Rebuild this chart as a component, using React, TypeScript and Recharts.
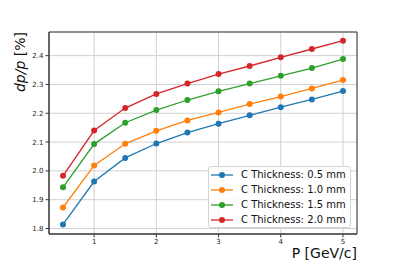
import React from "react";
import {
  LineChart, Line, XAxis, YAxis, CartesianGrid, Legend, Label, ReferenceArea,
} from "recharts";

const momentum = [0.5, 1.0, 1.5, 2.0, 2.5, 3.0, 3.5, 4.0, 4.5, 5.0];

const thick05 = [1.814, 1.963, 2.045, 2.095, 2.133, 2.164, 2.193, 2.221, 2.248, 2.277];
const thick10 = [1.873, 2.019, 2.094, 2.139, 2.175, 2.203, 2.232, 2.258, 2.286, 2.315];
const thick15 = [1.943, 2.093, 2.167, 2.211, 2.246, 2.276, 2.303, 2.330, 2.357, 2.388];
const thick20 = [1.983, 2.140, 2.218, 2.267, 2.303, 2.336, 2.364, 2.394, 2.423, 2.452];

const xTicks = [1, 2, 3, 4, 5];
const yTicks = [1.8, 1.9, 2.0, 2.1, 2.2, 2.3, 2.4];
const xDomain: [number, number] = [0.275, 5.225];
const yDomain: [number, number] = [1.781, 2.482];

const series = [
  { key: "t05", label: "C Thickness: 0.5 mm", color: "#1f77b4", values: thick05 },
  { key: "t10", label: "C Thickness: 1.0 mm", color: "#ff7f0e", values: thick10 },
  { key: "t15", label: "C Thickness: 1.5 mm", color: "#2ca02c", values: thick15 },
  { key: "t20", label: "C Thickness: 2.0 mm", color: "#d62728", values: thick20 },
];

const data = momentum.map((p, i) => {
  const row: Record<string, number> = { p };
  series.forEach((s) => { row[s.key] = s.values[i]; });
  return row;
});

const FONT = "DejaVu Sans, Verdana, sans-serif";
const AXIS = "#3a3a3a";
const tickStyle = { fontSize: 7, fill: "#222", fontFamily: FONT };

const YLabel = ({ viewBox }: { viewBox?: { x: number; y: number } }) => {
  if (!viewBox) return null;
  const x = viewBox.x + 25;
  const y = viewBox.y;
  return (
    <text
      x={x}
      y={y}
      transform={`rotate(-90, ${x}, ${y})`}
      textAnchor="end"
      fontSize={14}
      fontFamily={FONT}
      fill="#111"
    >
      <tspan fontStyle="italic">dp/p</tspan>
      <tspan> [%]</tspan>
    </text>
  );
};

const XLabel = ({ viewBox }: { viewBox?: { x: number; y: number; width: number } }) => {
  if (!viewBox) return null;
  return (
    <text
      x={viewBox.x + viewBox.width}
      y={viewBox.y + 24}
      textAnchor="end"
      fontSize={14}
      fontFamily={FONT}
      fill="#111"
    >
      P [GeV/c]
    </text>
  );
};

const LegendBox = () => (
  <div
    style={{
      border: "1px solid #d4d4d4",
      borderRadius: 3,
      background: "rgba(255,255,255,0.85)",
      width: 143,
      height: 62,
      boxSizing: "border-box",
      fontFamily: FONT,
      fontSize: 10,
      color: "#111",
    }}
  >
    {series.map((s) => (
      <div key={s.key} style={{ display: "flex", alignItems: "center", height: 15 }}>
        <svg width={22} height={8} style={{ marginLeft: 2, marginRight: 8 }}>
          <line x1={0} y1={4} x2={22} y2={4} stroke={s.color} strokeWidth={1.3} />
          <circle cx={11} cy={4} r={3} fill={s.color} />
        </svg>
        <span style={{ whiteSpace: "nowrap", lineHeight: "15px" }}>{s.label}</span>
      </div>
    ))}
  </div>
);

export default function App() {
  return (
    <div style={{ position: "absolute", left: 0, top: 0, background: "#fff", fontFamily: FONT }}>
      <LineChart
        width={397}
        height={264}
        data={data}
        margin={{ top: 32, right: 40, left: 0, bottom: 0 }}
      >
        <CartesianGrid stroke="#d0d0d0" strokeWidth={1} />
        <XAxis
          dataKey="p"
          type="number"
          domain={xDomain}
          ticks={xTicks}
          allowDataOverflow
          height={30}
          tick={tickStyle}
          tickSize={3.5}
          tickMargin={2}
          tickLine={{ stroke: AXIS }}
          axisLine={{ stroke: AXIS }}
          tickFormatter={(v) => String(v)}
        >
          <Label content={<XLabel />} />
        </XAxis>
        <YAxis
          type="number"
          domain={yDomain}
          ticks={yTicks}
          allowDataOverflow
          width={49}
          tick={tickStyle}
          tickSize={3.5}
          tickMargin={2}
          tickLine={{ stroke: AXIS }}
          axisLine={{ stroke: AXIS }}
          tickFormatter={(v) => Number(v).toFixed(1)}
        >
          <Label content={<YLabel />} />
        </YAxis>
        <ReferenceArea
          x1={xDomain[0]}
          x2={xDomain[1]}
          y1={yDomain[0]}
          y2={yDomain[1]}
          fill="none"
          stroke={AXIS}
          strokeWidth={1}
        />
        {series.map((s) => (
          <Line
            key={s.key}
            dataKey={s.key}
            name={s.label}
            stroke={s.color}
            strokeWidth={1.3}
            dot={{ r: 3, fill: s.color, stroke: "none" }}
            activeDot={false}
            isAnimationActive={false}
          />
        ))}
        <Legend
          layout="horizontal"
          verticalAlign="middle"
          align="center"
          content={<LegendBox />}
          wrapperStyle={{ left: 208, top: 166, width: 143, height: 62 }}
        />
      </LineChart>
    </div>
  );
}
